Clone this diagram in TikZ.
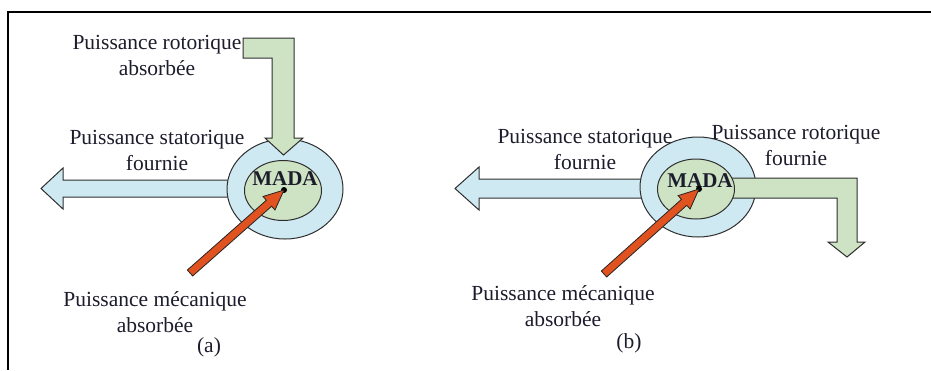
\documentclass[tikz,border=0pt]{standalone}
\usepackage{fontspec}
\setmainfont{Liberation Serif}
\usetikzlibrary{shapes.geometric,calc}

\definecolor{statblue}{HTML}{CFE9F3}
\definecolor{rotgreen}{HTML}{CDE3C4}
\definecolor{mecred}{HTML}{E0521F}
\definecolor{edge}{HTML}{2E2E2E}
\definecolor{ink}{HTML}{1C1C2C}

\tikzset{
  outline/.style={draw=edge, line width=1pt, line join=miter},
  bluearrow/.style={outline, fill=statblue},
  greenarrow/.style={outline, fill=rotgreen},
  redarrow/.style={draw=edge!80!black, line width=0.8pt, fill=mecred, line join=miter},
  stator/.style={ellipse, outline, fill=statblue, minimum width=116pt, minimum height=100pt, inner sep=0pt},
  rotor/.style={ellipse, outline, fill=rotgreen, minimum width=77pt, minimum height=60pt, inner sep=0pt},
  hub/.style={circle, fill=black, minimum size=6pt, inner sep=0pt},
  label/.style={align=center, text=ink, font=\fontsize{21.5}{26}\selectfont, inner sep=0pt},
  machine/.style={text=ink, font=\fontsize{21}{21}\selectfont\bfseries, inner sep=0pt},
  caption/.style={text=ink, font=\fontsize{21.5}{26}\selectfont, inner sep=0pt}
}

% fat straight arrow from #1 to #2 (shaft half-width 4pt, head 9pt x 20pt)
\newcommand{\fatarrow}[2]{%
  \coordinate (hb) at ($(#2)!20pt!(#1)$);
  \draw[redarrow]
    ($(#1)!4pt!90:(#2)$) -- ($(hb)!4pt!90:(#2)$) -- ($(hb)!9pt!90:(#2)$)
    -- (#2) -- ($(hb)!9pt!-90:(#2)$) -- ($(hb)!4pt!-90:(#2)$)
    -- ($(#1)!4pt!-90:(#2)$) -- cycle;}

\begin{document}
\begin{tikzpicture}[x=1pt, y=-1pt]
  \useasboundingbox (0,0) rectangle (931,370);

  % frame
  \draw[line width=1.6pt, black] (8,370) -- (8,12) -- (931,12);

  % ---------- (a) ----------
  \draw[bluearrow] (240,180) -- (63,180) -- (63,168) -- (41,188.5) -- (63,209)
                   -- (63,197) -- (240,197) -- cycle;
  \node[stator] (statA) at (285,189) {};
  \node[rotor]  (rotA)  at (283,190.5) {};
  \draw[greenarrow] (243,38) -- (294,38) -- (294,138) -- (303,138) -- (283.5,155)
                    -- (265,138) -- (272,138) -- (272,58) -- (243,58) -- cycle;
  \node[machine, anchor=base] (madaA) at (285,185) {MADA};
  \coordinate (mecA) at (190,273);
  \node[hub] (hubA) at (284,190) {};
  \fatarrow{mecA}{hubA.center}

  \node[label] (rotlabA)  at (157,55)  {Puissance rotorique\\absorbée};
  \node[label] (statlabA) at (157,150) {Puissance statorique\\fournie};
  \node[label] (meclabA)  at (155,312) {Puissance mécanique\\absorbée};
  \node[caption] (capA) at (209,347) {(a)};

  % ---------- (b) ----------
  \draw[bluearrow] (660,179) -- (479,179) -- (479,167) -- (455,188.5) -- (479,210)
                   -- (479,198) -- (660,198) -- cycle;
  \node[stator] (statB) at (698,187) {};
  \draw[greenarrow] (720,178) -- (857,178) -- (857,242) -- (865,242) -- (847,257)
                    -- (828,242) -- (837,242) -- (837,198) -- (720,198) -- cycle;
  \node[rotor]  (rotB)  at (696,189) {};
  \node[machine, anchor=base] (madaB) at (700,187) {MADA};
  \coordinate (mecB) at (604,274);
  \node[hub] (hubB) at (699,189) {};
  \fatarrow{mecB}{hubB.center}

  \node[label] (statlabB) at (585,149) {Puissance statorique\\fournie};
  \node[label] (rotlabB)  at (796,145) {Puissance rotorique\\fournie};
  \node[label] (meclabB)  at (563,306) {Puissance mécanique\\absorbée};
  \node[caption] (capB) at (629,343) {(b)};
\end{tikzpicture}
\end{document}
